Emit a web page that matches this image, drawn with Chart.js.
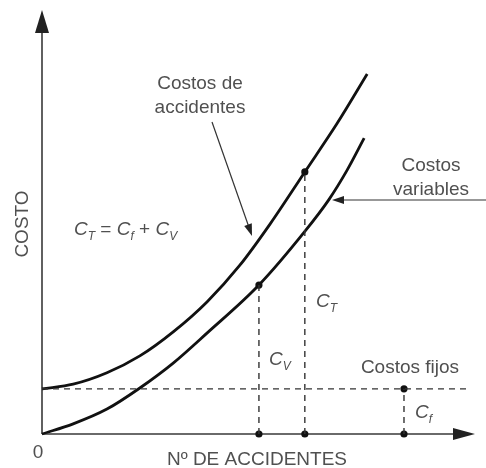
<!DOCTYPE html>
<html>
<head>
<meta charset="utf-8">
<script src="https://cdn.jsdelivr.net/npm/chart.js@4/dist/chart.umd.min.js"></script>
<style>
  html, body { margin: 0; padding: 0; background: #fff; }
  #wrap { width: 486px; height: 468px; }
</style>
</head>
<body>
<div id="wrap"><canvas id="costChart" width="486" height="468"></canvas></div>
<script>
// Accident cost curves (arbitrary units, 0-100 on both axes)
const totalX = [0, 7.2, 15.0, 22.6, 30.3, 38.1, 45.7, 52.7, 60.7, 68.1, 75.1];
const totalCost = [10.7, 11.8, 14.5, 18.5, 24.2, 31.3, 40.0, 49.8, 62.1, 73.5, 85.3];
const varX = [0, 7.2, 15.0, 22.6, 30.3, 38.1, 50.1, 60.7, 66.3, 70.4, 74.4];
const variableCost = [0, 2.4, 5.9, 10.9, 16.8, 23.9, 35.3, 48.0, 55.6, 62.4, 70.1];
const fixedCost = 10.7;
const fixedEndX = 98.8;
// marked accident counts and the cost read at each one
const markX = [50.1, 60.7, 83.6];
const markY = [35.3, 62.1, 10.7];

const toPts = (xs, ys) => xs.map((x, i) => ({ x: x, y: ys[i] }));

const textColor = '#505050';
const font = '"Liberation Sans", Arial, sans-serif';

// draws italic C with a subscript, returns the x after it
function drawSubC(ctx, sub, x, y) {
    ctx.font = 'italic 19px ' + font;
    ctx.fillText('C', x, y);
    x += ctx.measureText('C').width;
    ctx.font = 'italic 12px ' + font;
    ctx.fillText(sub, x, y + 5);
    return x + ctx.measureText(sub).width;
}

function arrowHead(ctx, tx, ty, angle, len, half) {
    ctx.save();
    ctx.translate(tx, ty);
    ctx.rotate(angle);
    ctx.beginPath();
    ctx.moveTo(0, 0);
    ctx.lineTo(-len, -half);
    ctx.lineTo(-len, half);
    ctx.closePath();
    ctx.fill();
    ctx.restore();
}

const decorations = {
    id: 'decorations',
    beforeDatasetsDraw(chart) {
        // axes with arrows, under the curves
        const ctx = chart.ctx;
        const a = chart.chartArea;
        ctx.save();
        ctx.strokeStyle = '#3a3a3a';
        ctx.fillStyle = '#222';
        ctx.lineWidth = 1.6;
        ctx.beginPath();
        ctx.moveTo(a.left, a.bottom);
        ctx.lineTo(a.left, a.top + 10);
        ctx.moveTo(a.left, a.bottom);
        ctx.lineTo(a.right - 10, a.bottom);
        ctx.stroke();
        arrowHead(ctx, a.left, a.top - 2, -Math.PI / 2, 23, 7);
        arrowHead(ctx, a.right, a.bottom, 0, 22, 6);
        ctx.restore();
    },
    afterDraw(chart) {
        const ctx = chart.ctx;
        const a = chart.chartArea;
        ctx.save();

        ctx.fillStyle = textColor;
        ctx.textBaseline = 'alphabetic';

        // axis labels
        ctx.font = '19px ' + font;
        ctx.textAlign = 'center';
        ctx.fillText('0', a.left - 4, a.bottom + 24);
        ctx.fillText('Nº DE ACCIDENTES', 257, 465);
        ctx.save();
        ctx.translate(28, 224);
        ctx.rotate(-Math.PI / 2);
        ctx.fillText('COSTO', 0, 0);
        ctx.restore();

        // curve captions
        ctx.fillText('Costos de', 200, 89);
        ctx.fillText('accidentes', 200, 113);
        ctx.fillText('Costos', 431, 171);
        ctx.fillText('variables', 431, 195);
        ctx.fillText('Costos fijos', 410, 373);

        // pointer arrows
        ctx.strokeStyle = '#333';
        ctx.fillStyle = '#222';
        ctx.lineWidth = 1.2;
        const tipX = 252, tipY = 236;
        const ang = Math.atan2(tipY - 122, tipX - 212);
        ctx.beginPath();
        ctx.moveTo(212, 122);
        ctx.lineTo(tipX - 10 * Math.cos(ang), tipY - 10 * Math.sin(ang));
        ctx.stroke();
        arrowHead(ctx, tipX, tipY, ang, 12, 4);
        ctx.beginPath();
        ctx.moveTo(486, 200);
        ctx.lineTo(342, 200);
        ctx.stroke();
        arrowHead(ctx, 332, 200, Math.PI, 12, 4);

        // formula and segment labels
        ctx.fillStyle = textColor;
        ctx.textAlign = 'left';
        let x = drawSubC(ctx, 'T', 74, 235);
        ctx.font = '19px ' + font;
        ctx.fillText(' = ', x, 235);
        x += ctx.measureText(' = ').width;
        x = drawSubC(ctx, 'f', x, 235);
        ctx.font = '19px ' + font;
        ctx.fillText(' + ', x, 235);
        x += ctx.measureText(' + ').width;
        drawSubC(ctx, 'V', x, 235);

        drawSubC(ctx, 'T', 316, 307);
        drawSubC(ctx, 'V', 269, 365);
        drawSubC(ctx, 'f', 415, 418);

        ctx.restore();
    }
};

const dashStyle = {
    borderColor: '#333',
    borderWidth: 1.4,
    borderDash: [6, 5],
    pointRadius: 0,
    showLine: true,
    fill: false,
    clip: false
};

const ctx = document.getElementById('costChart').getContext('2d');
const costChart = new Chart(ctx, {
    type: 'scatter',
    data: {
        datasets: [
            Object.assign({ data: [{ x: 0, y: fixedCost }, { x: fixedEndX, y: fixedCost }] }, dashStyle),
            ...markX.map((mx, i) => Object.assign({ data: [{ x: mx, y: 0 }, { x: mx, y: markY[i] }] }, dashStyle)),
            {
                label: 'Costos de accidentes',
                data: toPts(totalX, totalCost),
                showLine: true,
                borderColor: '#111',
                borderWidth: 2.8,
                pointRadius: 0,
                cubicInterpolationMode: 'monotone',
                clip: false
            },
            {
                label: 'Costos variables',
                data: toPts(varX, variableCost),
                showLine: true,
                borderColor: '#111',
                borderWidth: 2.8,
                pointRadius: 0,
                cubicInterpolationMode: 'monotone',
                clip: false
            },
            {
                label: 'marks',
                data: toPts(markX, markY).concat(markX.map(mx => ({ x: mx, y: 0 }))),
                showLine: false,
                pointRadius: 3.6,
                pointBackgroundColor: '#111',
                pointBorderWidth: 0,
                clip: false
            }
        ]
    },
    options: {
        responsive: false,
        animation: false,
        layout: { padding: { left: 42, top: 12, right: 11, bottom: 34 } },
        plugins: {
            legend: { display: false },
            tooltip: { enabled: false }
        },
        scales: {
            x: { type: 'linear', min: 0, max: 100, display: false },
            y: { type: 'linear', min: 0, max: 100, display: false }
        }
    },
    plugins: [decorations]
});
</script>
</body>
</html>
